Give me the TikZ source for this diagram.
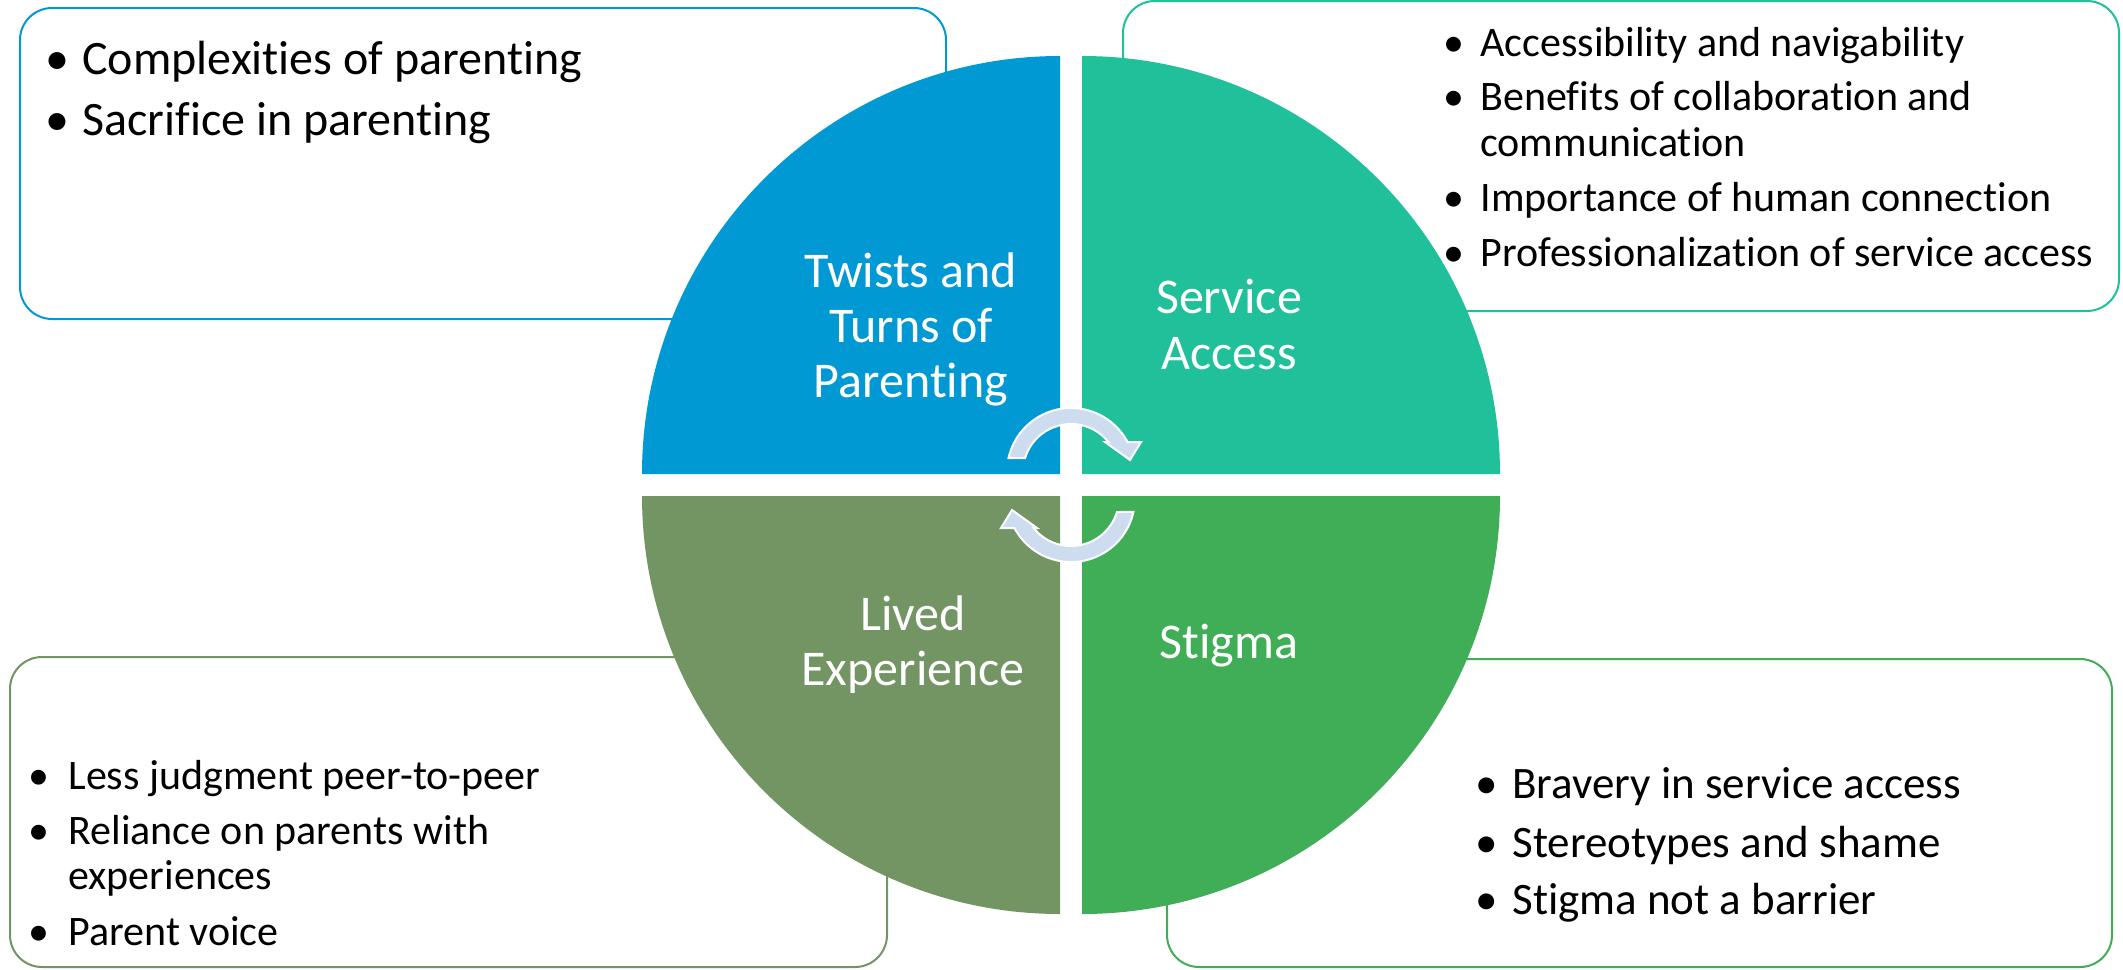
\documentclass[tikz,border=0pt]{standalone}
\usepackage{fontspec}
\setmainfont{Carlito}[Ligatures={CommonOff,ContextualOff}]
\usetikzlibrary{calc}
\definecolor{qblue}{RGB}{0,153,212}
\definecolor{qteal}{RGB}{31,192,154}
\definecolor{qolive}{RGB}{115,148,99}
\definecolor{qgreen}{RGB}{64,173,87}
\definecolor{arrowfill}{RGB}{205,220,238}
\begin{document}
\begin{tikzpicture}[x=0.5pt,y=-0.5pt,
  infobox/.style={draw, line width=1pt, fill=white, rounded corners=16pt},
  cyc/.style={fill=arrowfill, draw=white, line width=1pt, line join=miter},
  lab/.style={text=white, font=\fontsize{25}{27.5}\selectfont, inner sep=0pt, anchor=base},
  bul/.style={inner sep=0pt, anchor=base},
  itm/.style={inner sep=0pt, anchor=base west},
  ftl/.style={font=\fontsize{24}{26}\selectfont},
  ftr/.style={font=\fontsize{21}{23}\selectfont},
  fbl/.style={font=\fontsize{21}{23}\selectfont},
  fbr/.style={font=\fontsize{22.5}{24}\selectfont}]
\useasboundingbox (0,0) rectangle (2123,969);
\fill[white] (0,0) rectangle (2123,969);
% text boxes
\draw[infobox, draw=qblue] (20,8) rectangle (946,319);
\draw[infobox, draw=qteal] (1123,1) rectangle (2119,311);
\draw[infobox, draw=qolive] (10,657) rectangle (887,967);
\draw[infobox, draw=qgreen] (1167,659) rectangle (2112,967);
% top-left items
\node[bul, ftl] (tlb1) at (57,74) {•};
\node[itm, ftl] (tlt1) at (82,74) {Complexities of parenting};
\node[bul, ftl] (tlb2) at (57,135) {•};
\node[itm, ftl] (tlt2) at (82,135) {Sacrifice in parenting};
% top-right items
\node[bul, ftr] (trb1) at (1454,56) {•};
\node[itm, ftr] (trt1) at (1480,56) {Accessibility and navigability};
\node[bul, ftr] (trb2) at (1454,110) {•};
\node[itm, ftr] (trt2) at (1480,110) {Benefits of collaboration and};
\node[itm, ftr] (trt2b) at (1480,156) {communication};
\node[bul, ftr] (trb3) at (1454,211) {•};
\node[itm, ftr] (trt3) at (1480,211) {Importance of human connection};
\node[bul, ftr] (trb4) at (1454,266) {•};
\node[itm, ftr] (trt4) at (1480,266) {Professionalization of service access};
% bottom-left items
\node[bul, fbl] (blb1) at (39,789) {•};
\node[itm, fbl] (blt1) at (68,789) {Less judgment peer-to-peer};
\node[bul, fbl] (blb2) at (39,844) {•};
\node[itm, fbl] (blt2) at (68,844) {Reliance on parents with};
\node[itm, fbl] (blt2b) at (68,889) {experiences};
\node[bul, fbl] (blb3) at (39,945) {•};
\node[itm, fbl] (blt3) at (68,945) {Parent voice};
% bottom-right items
\node[bul, fbr] (brb1) at (1487,798) {•};
\node[itm, fbr] (brt1) at (1512,798) {Bravery in service access};
\node[bul, fbr] (brb2) at (1487,857) {•};
\node[itm, fbr] (brt2) at (1512,857) {Stereotypes and shame};
\node[bul, fbr] (brb3) at (1487,914) {•};
\node[itm, fbr] (brt3) at (1512,914) {Stigma not a barrier};
% quadrants
\fill[qblue] (1060,474) -- (642,474) arc[start angle=180, end angle=270, radius=418] -- cycle;
\fill[qteal] (1082,474) -- (1082,56) arc[start angle=270, end angle=360, radius=418] -- cycle;
\fill[qgreen] (1082,496) -- (1500,496) arc[start angle=0, end angle=90, radius=418] -- cycle;
\fill[qolive] (1060,496) -- (1060,914) arc[start angle=90, end angle=180, radius=418] -- cycle;
% circular arrows
\path[cyc] ([shift={(1071,472)}]192.6:64) arc[start angle=192.6, end angle=332.05, radius=64]
  -- (1141,442) -- (1130,460) -- (1105,442) -- ([shift={(1071,472)}]321.3:48)
  arc[start angle=321.3, end angle=196.96, radius=48] -- cycle;
\begin{scope}[rotate around={180:(1071,485)}]
\path[cyc] ([shift={(1071,472)}]192.6:64) arc[start angle=192.6, end angle=332.05, radius=64]
  -- (1141,442) -- (1130,460) -- (1105,442) -- ([shift={(1071,472)}]321.3:48)
  arc[start angle=321.3, end angle=196.96, radius=48] -- cycle;
\end{scope}
% quadrant labels
\node[lab] (q1a) at (911,287) {Twists and};
\node[lab] (q1b) at (911,342) {Turns of};
\node[lab] (q1c) at (911,397) {Parenting};
\node[lab] (q2a) at (1229,313) {Service};
\node[lab] (q2b) at (1229,369) {Access};
\node[lab] (q3a) at (913,630) {Lived};
\node[lab] (q3b) at (913,685) {Experience};
\node[lab] (q4a) at (1229,658) {Stigma};
\end{tikzpicture}
\end{document}
